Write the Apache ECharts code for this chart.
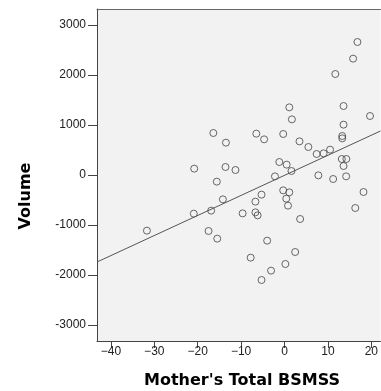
<!DOCTYPE html>
<html><head><meta charset="utf-8">
<script src="https://cdn.jsdelivr.net/npm/echarts@6/dist/echarts.min.js"></script>
<style>html,body{margin:0;padding:0;background:#fff;}#c{width:381px;height:391px;}</style>
</head><body><div id="c"></div>
<script>
const bsmss = [-16.4,-13.5,-20.8,-13.6,-11.3,16.8,15.8,11.7,1.1,13.6,19.7,1.7,13.6,-6.5,-4.7,-0.3,13.3,13.3,3.45,5.5,7.4,9.0,10.5,13.2,14.25,13.6,-1.2,0.5,1.6,-2.2,7.8,11.2,14.2,18.2,16.3,-5.3,-6.7,-9.65,-6.7,-6.2,-0.3,1.1,0.4,0.8,3.6,-4.0,-7.8,2.45,0.2,-3.1,-5.3,-15.6,-14.2,-20.9,-16.9,-31.7,-17.5,-15.5];
const volume = [840,647,127,160,100,2660,2327,2020,1353,1380,1180,1113,1007,827,713,820,780,733,673,560,420,433,507,320,320,180,260,207,80,-27,-7,-80,-27,-340,-660,-393,-533,-767,-747,-807,-307,-347,-473,-613,-880,-1313,-1653,-1540,-1780,-1913,-2100,-133,-487,-773,-713,-1113,-1120,-1273];
const fitX = [-43.2, 22.1];
const fitY = [-1740, 880];
const xTicks = [-40,-30,-20,-10,0,10,20];
const yTicks = [-3000,-2000,-1000,0,1000,2000,3000];
const xTitle = "Mother's Total BSMSS";
const yTitle = "Volume";

const pts = bsmss.map((x,i)=>[x, volume[i]]);
const chart = echarts.init(document.getElementById('c'), null, {renderer:'canvas'});
const lab = {fontFamily:'Liberation Sans', fontSize:12, color:'#222'};
chart.setOption({
  animation:false,
  grid:{left:97, right:0, top:9, bottom:50, show:true, backgroundColor:'#f2f2f2', borderWidth:0},
  xAxis:[{type:'value', min:-43.2, max:22.1,
    axisLine:{show:true, onZero:false, lineStyle:{color:'#444'}},
    axisTick:{show:true, length:7, customValues:xTicks, lineStyle:{color:'#444'}},
    axisLabel:Object.assign({margin:5, customValues:xTicks, formatter:v=>String(v).replace('-','\u2212')}, lab),
    splitLine:{show:false}},
    {type:'value', position:'top', min:-43.2, max:22.1,
    axisLine:{show:true, onZero:false, lineStyle:{color:'#666'}},
    axisTick:{show:false}, axisLabel:{show:false}, splitLine:{show:false}}],
  yAxis:{type:'value', min:-3320, max:3320,
    axisLine:{show:true, onZero:false, lineStyle:{color:'#444'}},
    axisTick:{show:true, length:9, customValues:yTicks, lineStyle:{color:'#444'}},
    axisLabel:Object.assign({margin:11, customValues:yTicks, formatter:v=>String(v)}, lab),
    splitLine:{show:false}},
  series:[
    {type:'scatter', data:pts, symbol:'circle', symbolSize:7,
     itemStyle:{color:'rgba(0,0,0,0)', borderColor:'#444', borderWidth:1}},
    {type:'line', data:fitX.map((x,i)=>[x,fitY[i]]), symbol:'none', clip:true,
     lineStyle:{color:'#555', width:1}}
  ],
  graphic:[
    {type:'text', x:242, y:381,
     style:{text:xTitle, textAlign:'center', textVerticalAlign:'middle', font:'bold 16px "DejaVu Sans"', fill:'#000'}},
    {type:'text', rotation:Math.PI/2, x:26, y:196,
     style:{text:yTitle, textAlign:'center', textVerticalAlign:'middle', font:'bold 16px "DejaVu Sans"', fill:'#000'}}
  ]
});
</script></body></html>
